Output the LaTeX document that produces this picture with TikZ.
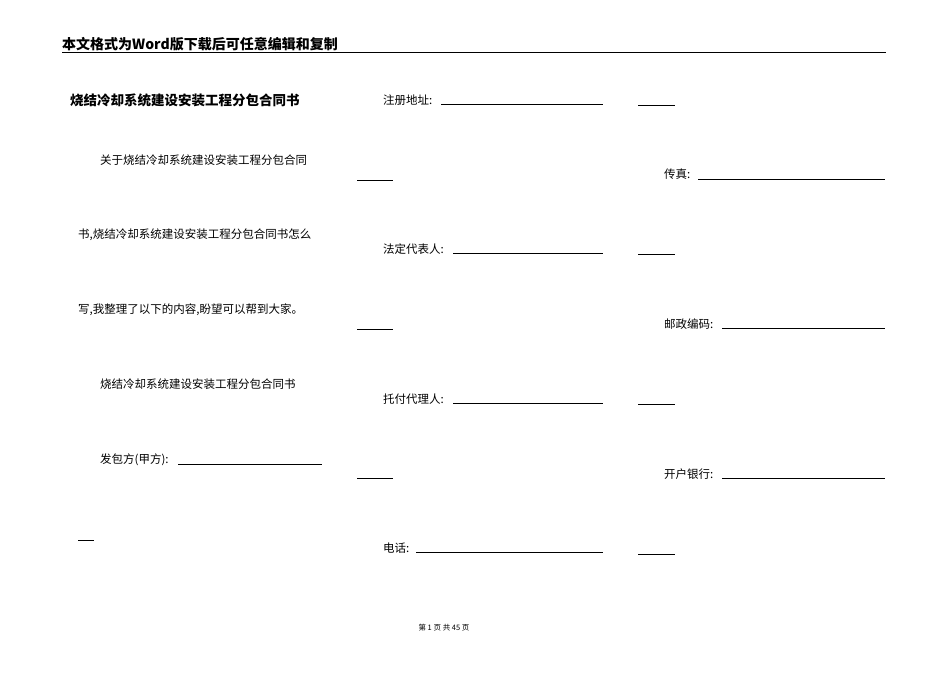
\documentclass[tikz,border=0pt]{standalone}
\usepackage{fontspec}
\newfontfamily\cjk{Noto Sans CJK SC}
\begin{document}
\begin{tikzpicture}[x=1pt,y=-1pt,
  txt/.style={anchor=west,inner sep=0pt,font=\cjk\fontsize{11.5}{13}\selectfont},
  bold/.style={anchor=west,inner sep=0pt,font=\cjk\bfseries\fontsize{14}{16}\selectfont},
  uline/.style={line width=0.6pt}]
\useasboundingbox (0,0) rectangle (950,672);
\node[bold] (hdr) at (62,44) {本文格式为Word版下载后可任意编辑和复制};
\draw[line width=0.8pt] (62,52) -- (886,52);
\node[bold,font=\cjk\bfseries\fontsize{13.5}{15}\selectfont] (title) at (70,100) {烧结冷却系统建设安装工程分包合同书};
\node[txt] (p1) at (100,160) {关于烧结冷却系统建设安装工程分包合同};
\node[txt] (p2) at (78,235) {书,烧结冷却系统建设安装工程分包合同书怎么};
\node[txt] (p3) at (78,310) {写,我整理了以下的内容,盼望可以帮到大家。};
\node[txt] (p4) at (100,384) {烧结冷却系统建设安装工程分包合同书};
\node[txt] (p5) at (100,460) {发包方(甲方):};
\draw[uline] (178,464) -- (322,464);
\draw[uline] (78,540) -- (94,540);
\node[txt] (c1) at (383,100) {注册地址:};
\draw[uline] (441,104) -- (603,104);
\draw[uline] (357,180) -- (393,180);
\node[txt] (c2) at (383,249) {法定代表人:};
\draw[uline] (453,253) -- (603,253);
\draw[uline] (357,329) -- (393,329);
\node[txt] (c3) at (383,399) {托付代理人:};
\draw[uline] (453,403) -- (603,403);
\draw[uline] (357,478) -- (393,478);
\node[txt] (c4) at (383,548) {电话:};
\draw[uline] (416,552) -- (603,552);
\draw[uline] (638,105) -- (675,105);
\node[txt] (d1) at (664,174) {传真:};
\draw[uline] (698,179) -- (885,179);
\draw[uline] (638,254) -- (675,254);
\node[txt] (d2) at (664,324) {邮政编码:};
\draw[uline] (722,328) -- (885,328);
\draw[uline] (638,404) -- (675,404);
\node[txt] (d3) at (664,474) {开户银行:};
\draw[uline] (722,478) -- (885,478);
\draw[uline] (638,554) -- (675,554);
\node[inner sep=0pt,font=\cjk\fontsize{7.5}{9}\selectfont] (foot) at (444,628) {第 1 页 共 45 页};
\end{tikzpicture}
\end{document}
